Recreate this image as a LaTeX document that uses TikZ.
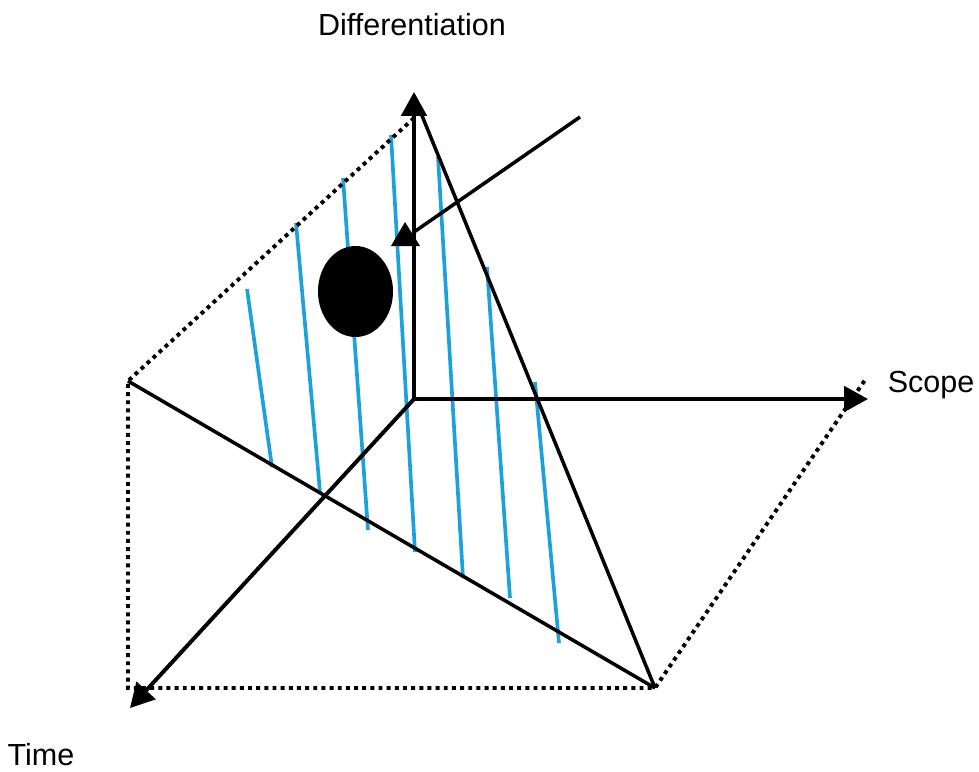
\documentclass[tikz,border=0pt]{standalone}
\usepackage{fontspec}
\setmainfont{Liberation Sans}
\usepackage{tikz}
\usetikzlibrary{arrows.meta}
\definecolor{hatchBlue}{HTML}{1DA1DC}

\begin{document}
\begin{tikzpicture}[x=0.025cm, y=-0.025cm,
    every node/.style={font=\fontsize{21.7}{26}\selectfont, inner sep=0pt},
    axis/.style={line width=2.8pt, -{Triangle[length=17pt, width=18pt]}},
    edge/.style={line width=2.5pt},
    guide/.style={line width=2.8pt, dash pattern=on 2.8pt off 3pt},
    hatch/.style={hatchBlue, line width=2.6pt},
]
\useasboundingbox (0,0) rectangle (979,771);

% ── Corner points ──────────────────────────────────────────────────────
\coordinate (origin)  at (414,399);
\coordinate (diffTip) at (414,92);
\coordinate (apex)    at (414,96);
\coordinate (diffTop) at (414,118);
\coordinate (scopeTip) at (868,399);
\coordinate (timeTip)  at (130,708);
\coordinate (leftCorner)  at (128,381);
\coordinate (floorCorner) at (128,688);
\coordinate (baseCorner)  at (655,688);
\coordinate (scopeDot)    at (865,380);
\coordinate (pointerFrom) at (580,117);
\coordinate (pointerTo)   at (414,232);

% ── Labels ─────────────────────────────────────────────────────────────
\node (diffLabel)  at (412,25)  {Differentiation};
\node (scopeLabel) at (931,385) {Scope};
\node (timeLabel)  at (41,755)  {Time};

% ── Hatching ───────────────────────────────────────────────────────────
\foreach \xa/\ya/\xb/\yb in {247/289/272/467, 296/223/320/492, 343/178/368/530,
    391/135/415/552, 438/157/463/578, 487/267/510/598, 535/382/559/643}
    \draw[hatch] (\xa,\ya) -- (\xb,\yb);

% ── Guides ─────────────────────────────────────────────────────────────
\draw[guide] (diffTop) -- (leftCorner) -- (floorCorner) -- (baseCorner) -- (scopeDot);

% ── Plane edges ────────────────────────────────────────────────────────
\draw[edge] (apex) -- (baseCorner);
\draw[edge] (leftCorner) -- (baseCorner);

% ── Axes ───────────────────────────────────────────────────────────────
\draw[axis] (origin) -- (diffTip);
\draw[axis] (origin) -- (scopeTip);
\draw[axis] (origin) -- (timeTip);

% ── Position marker ────────────────────────────────────────────────────
\fill (355.5,291.5) ellipse [x radius=37.5, y radius=45.5];
\draw[edge] (pointerFrom) -- (pointerTo);
\fill (405,222) -- (420,246) -- (391,246) -- cycle;

\end{tikzpicture}
\end{document}
